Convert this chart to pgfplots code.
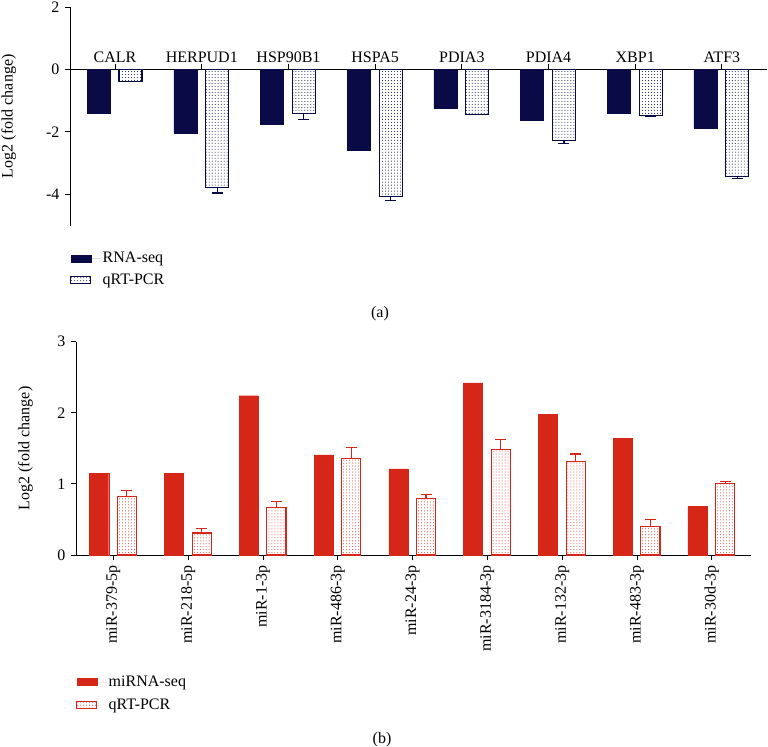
\documentclass[border=0pt]{standalone}
\usepackage{pgfplots}
\pgfplotsset{compat=1.18}
\usepackage{fontspec}
\setmainfont{Liberation Serif}
\usetikzlibrary{patterns}
\definecolor{navy}{RGB}{10,10,70}
\definecolor{redbar}{RGB}{214,38,24}

\begin{document}
\fontsize{16bp}{19bp}\selectfont
\begin{tikzpicture}
\path[use as bounding box] (0,0) rectangle (768bp,-747bp);

% (a) genes
\begin{axis}[
  at={(70bp,-225.5bp)}, anchor=south west,
  scale only axis, width=697bp, height=218.5bp,
  xmin=-0.52, xmax=7.52, ymin=-5, ymax=2,
  axis y line=left, axis x line=middle,
  axis line style={-, line width=0.9bp},
  hide obscured x ticks=false, hide obscured y ticks=false,
  tick align=outside, major tick length=5bp,
  tick style={line width=0.9bp, black},
  major x tick style={yshift=5bp},
  xtick={0,...,7},
  xticklabels={CALR,HERPUD1,HSP90B1,HSPA5,PDIA3,PDIA4,XBP1,ATF3},
  xticklabel style={anchor=base, yshift=12bp},
  ytick={-4,-2,0,2},
  ylabel={Log2 (fold change)},
  ylabel style={at={(axis description cs:-0.088,0.5)}, anchor=center},
  /pgf/number format/assume math mode=true,
  ybar, bar width=0.265,
  legend image code/.code={\draw[#1] (0bp,-3.5bp) rectangle (20bp,3.5bp); \path[draw=none] (0bp,0bp) -- (30bp,0bp);},
  legend style={at={(axis description cs:0,-0.11)}, anchor=north west,
    draw=none, fill=none, inner sep=0pt, row sep=5bp},
  legend cell align=left,
]
\addplot[fill=navy, draw=navy, bar shift=-0.19] coordinates {
  (0,-1.39) (1,-2.05) (2,-1.76) (3,-2.60) (4,-1.25) (5,-1.62) (6,-1.41) (7,-1.88)};
\addplot[pattern=dots, pattern color=navy, draw=navy, line width=1.1bp, bar shift=0.178,
  error bars/.cd, y dir=minus, y explicit,
  error bar style={navy, line width=1.1bp},
  error mark options={rotate=90, navy, mark size=5.5bp, line width=1.1bp}] coordinates {
  (0,-0.38) +- (0,0.02)
  (1,-3.79) +- (0,0.17)
  (2,-1.40) +- (0,0.21)
  (3,-4.07) +- (0,0.14)
  (4,-1.43) +- (0,0.02)
  (5,-2.28) +- (0,0.10)
  (6,-1.48) +- (0,0.02)
  (7,-3.42) +- (0,0.06)};
\legend{RNA-seq,qRT-PCR}
\end{axis}
\node at (380bp,-314bp) {(a)};

% (b) miRNAs
\begin{axis}[
  at={(76bp,-555bp)}, anchor=south west,
  scale only axis, width=675bp, height=213.3bp,
  xmin=-0.5, xmax=8.525, ymin=0, ymax=3,
  axis lines=left,
  axis line style={-, line width=0.9bp},
  tick align=outside, major tick length=5bp,
  tick style={line width=0.9bp, black},
  xtick={0,...,8},
  xticklabels={miR-379-5p,miR-218-5p,miR-1-3p,miR-486-3p,miR-24-3p,miR-3184-3p,miR-132-3p,miR-483-3p,miR-30d-3p},
  xticklabel style={rotate=90, anchor=east},
  ytick={0,1,2,3},
  ylabel={Log2 (fold change)},
  ylabel style={at={(axis description cs:-0.075,0.5)}, anchor=center},
  /pgf/number format/assume math mode=true,
  ybar, bar width=0.255,
  legend image code/.code={\draw[#1] (0bp,-3.5bp) rectangle (20bp,3.5bp); \path[draw=none] (0bp,0bp) -- (30bp,0bp);},
  legend style={at={(axis description cs:0,-0.555)}, anchor=north west,
    draw=none, fill=none, inner sep=0pt, row sep=6bp},
  legend cell align=left,
]
\addplot[fill=redbar, draw=redbar, bar shift=-0.19] coordinates {
  (0,1.15) (1,1.15) (2,2.24) (3,1.41) (4,1.21) (5,2.42) (6,1.98) (7,1.64) (8,0.68)};
\addplot[pattern=dots, pattern color=redbar, draw=redbar, line width=1.1bp, bar shift=0.18,
  error bars/.cd, y dir=plus, y explicit,
  error bar style={redbar, line width=1.1bp},
  error mark options={rotate=90, redbar, mark size=5.5bp, line width=1.1bp}] coordinates {
  (0,0.82) +- (0,0.085)
  (1,0.31) +- (0,0.06)
  (2,0.67) +- (0,0.08)
  (3,1.36) +- (0,0.15)
  (4,0.79) +- (0,0.06)
  (5,1.49) +- (0,0.14)
  (6,1.31) +- (0,0.11)
  (7,0.40) +- (0,0.10)
  (8,1.00) +- (0,0.03)};
\legend{miRNA-seq,qRT-PCR}
\end{axis}
\node at (382bp,-740bp) {(b)};
\end{tikzpicture}
\end{document}
